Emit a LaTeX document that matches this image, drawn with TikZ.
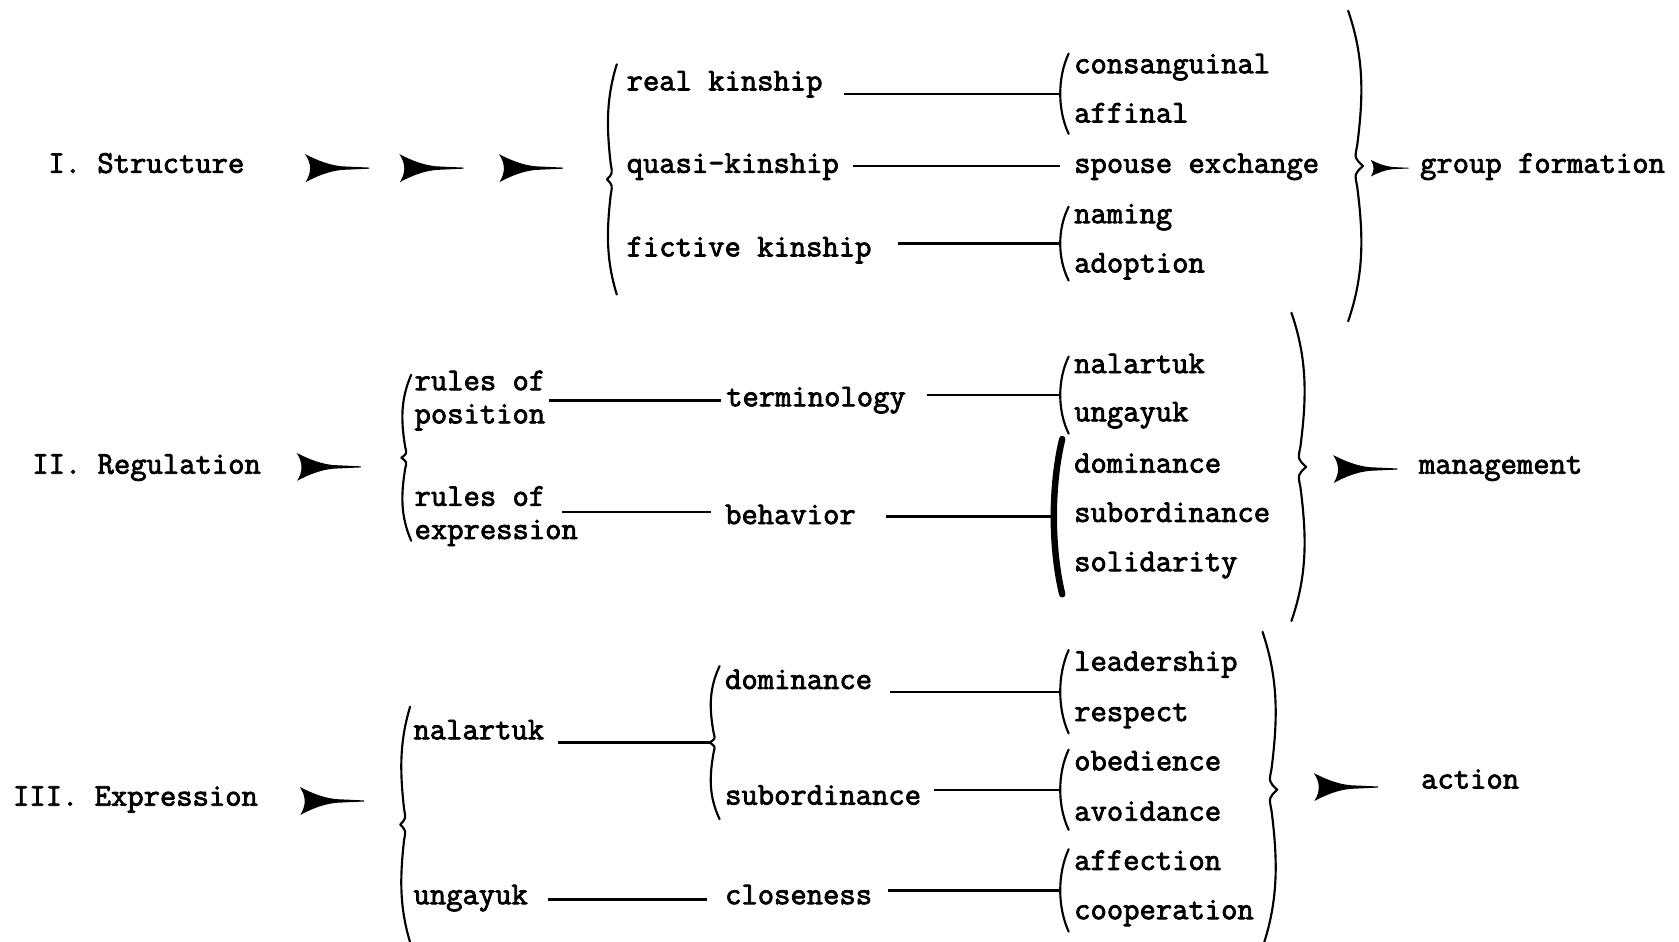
\documentclass[tikz,border=0pt]{standalone}
\usepackage{fontspec}
\newfontfamily\tw{Latin Modern Mono}[FakeBold=2.5]
\usetikzlibrary{calc}

\tikzset{
  lbl/.style={anchor=west, inner sep=0pt, font=\tw\fontsize{29.6}{31}\selectfont,
              text height=12.8pt, text depth=0pt},
  lbl2/.style={anchor=west, inner sep=0pt, font=\tw\fontsize{29.6}{31}\selectfont,
               align=left},
  link/.style={line width=2.2pt},
  braceline/.style={line width=2pt, line cap=round, line join=round},
  parenline/.style={line width=2pt, line cap=round},
  typedart/.pic={
    \fill (0,-13) .. controls (6,-4) and (6,4) .. (0.5,13)
          .. controls (12,7) and (22,3) .. (34,1.7) -- (60,0.5)
          -- (60,-0.5) -- (34,-1.7)
          .. controls (22,-3) and (12,-7) .. (0,-13) -- cycle;
  }
}

% typewriter-style parenthesis: x of the bulge, top, bottom, name of its tip
\newcommand\tparen[5][]{%
  \draw[parenline,#1] (#2+8,#3) .. controls (#2-2.5,#3+0.3*#4-0.3*#3)
        and (#2-2.5,#4-0.3*#4+0.3*#3) .. (#2+8,#4);
  \coordinate (#5) at (#2,{(#3+#4)/2});
}

% curly brace built of two arcs: x of its ends, top, bottom, signed bulge, tip name
\newcommand\tbrace[5]{%
  \pgfmathsetmacro\bm{(#2+#3)/2}%
  \pgfmathsetmacro\bl{(#3-#2)/2}%
  \draw[braceline] (#1,#2)
     .. controls ({#1+1.25*#4},{#2+0.3*\bl}) and ({#1+1.2*#4},{\bm-0.45*\bl}) .. ({#1+0.7*#4},{\bm-0.13*\bl})
     .. controls ({#1+0.5*#4},{\bm-0.05*\bl}) .. ({#1+1.15*#4},\bm)
     .. controls ({#1+0.5*#4},{\bm+0.05*\bl}) .. ({#1+0.7*#4},{\bm+0.13*\bl})
     .. controls ({#1+1.2*#4},{\bm+0.45*\bl}) and ({#1+1.25*#4},{#3-0.3*\bl}) .. (#1,#3);
  \coordinate (#5) at ({#1+1.15*#4},\bm);
}

\begin{document}
\begin{tikzpicture}[x=1pt,y=-1pt]
\fill[white] (0,0) rectangle (1568,879);
\useasboundingbox (0,0) rectangle (1568,879);

% ---------- I. Structure ----------
\node[lbl] (s1) at (45,155) {I. Structure};
\pic at (285,157) {typedart};
\pic at (373,157) {typedart};
\pic at (466,157) {typedart};
\tbrace{576}{60}{275}{-8}{t1}
\node[lbl] (rk) at (585,78)  {real kinship};
\node[lbl] (qk) at (585,155) {quasi-kinship};
\node[lbl] (fk) at (585,233) {fictive kinship};
\tparen{990}{50}{125}{p1}
\tparen{990}{193}{262}{p2}
\node[lbl] (cs) at (1003,62)  {consanguinal};
\node[lbl] (af) at (1003,108) {affinal};
\node[lbl] (se) at (1003,155) {spouse exchange};
\node[lbl] (nm) at (1003,202) {naming};
\node[lbl] (ad) at (1003,248) {adoption};
\draw[link] (rk.east |- p1) ++(20,0) -- (p1);
\draw[link] ($(qk.east)+(13,0)$) -- ($(qk.east -| se.west)+(-13,0)$);
\draw[link] (fk.east |- p2) ++(25,0) -- (p2);
\tbrace{1259}{10}{300}{12}{t2}
\pic[scale=0.6] at (1280,157) {typedart};
\node[lbl] (gf) at (1326,155) {group formation};

% ---------- II. Regulation ----------
\node[lbl] (s2) at (30,436) {II. Regulation};
\pic at (277,436) {typedart};
\tbrace{384}{350}{505}{-8}{t3}
\node[lbl2] (rp) at (387,374) {rules of\\position};
\node[lbl2] (re) at (387,482) {rules of\\expression};
\node[lbl] (tm) at (678,373) {terminology};
\node[lbl] (bh) at (677,483) {behavior};
\draw[link] ($(rp.east)+(3,0)$) -- ($(rp.east -| tm.west)+(-5,0)$);
\draw[link] ($(bh.west -| re.east)+(-15,-5)$) -- ($(bh.west)+(-13,-5)$);
\tparen{990}{333}{405}{p3}
\tparen[line width=6pt]{984}{410}{555}{p4}
\node[lbl] (n2) at (1003,342) {nalartuk};
\node[lbl] (u2) at (1003,387) {ungayuk};
\node[lbl] (d2) at (1003,435) {dominance};
\node[lbl] (b2) at (1003,481) {subordinance};
\node[lbl] (l2) at (1003,527) {solidarity};
\draw[link] (tm.east |- p3) ++(20,0) -- (p3);
\draw[link] (bh.east |- p4) ++(28,0) -- (p4);
\tbrace{1206}{292}{580}{12}{t4}
\pic at (1245,438) {typedart};
\node[lbl] (mg) at (1325,436) {management};

% ---------- III. Expression ----------
\node[lbl] (s3) at (12,746) {III. Expression};
\pic at (280,748) {typedart};
\tbrace{383}{660}{880}{-8}{t5}
\node[lbl] (n3) at (386,684) {nalartuk};
\node[lbl] (u3) at (386,838) {ungayuk};
\tbrace{672}{622}{765}{-8}{t6}
\node[lbl] (dm) at (677,637) {dominance};
\node[lbl] (sb) at (677,745) {subordinance};
\node[lbl] (cl) at (677,838) {closeness};
\draw[link] (n3.east |- t6) ++(13,0) -- (t6);
\draw[link] ($(u3.east)+(19,2)$) -- ($(u3.east -| cl.west)+(-17,2)$);
\tparen{990}{607}{685}{p5}
\tparen{990}{700}{775}{p6}
\tparen{990}{793}{870}{p7}
\node[lbl] (ld) at (1003,620) {leadership};
\node[lbl] (rs) at (1003,667) {respect};
\node[lbl] (ob) at (1003,713) {obedience};
\node[lbl] (av) at (1003,760) {avoidance};
\node[lbl] (ac) at (1003,806) {affection};
\node[lbl] (co) at (1003,852) {cooperation};
\draw[link] (dm.east |- p5) ++(17,0) -- (p5);
\draw[link] (sb.east |- p6) ++(12,0) -- (p6);
\draw[link] (cl.east |- p7) ++(15,0) -- (p7);
\tbrace{1179}{590}{885}{12}{t7}
\pic at (1227,735) {typedart};
\node[lbl] (at) at (1327,730) {action};
\end{tikzpicture}
\end{document}
